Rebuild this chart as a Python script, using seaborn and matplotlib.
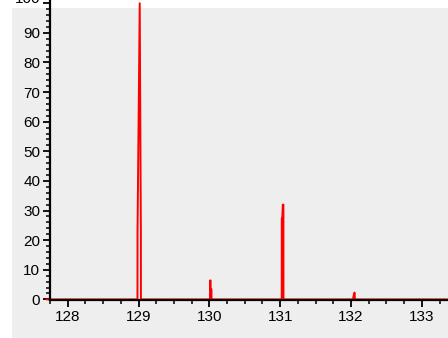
import numpy as np
import pandas as pd
import matplotlib
matplotlib.use("Agg")
import matplotlib.pyplot as plt
import seaborn as sns
from matplotlib.patches import Rectangle
from matplotlib.ticker import MultipleLocator
from matplotlib.transforms import ScaledTranslation

# profile spectrum (m/z vs relative intensity)
mz = [127.70,
      128.985, 128.986, 129.017, 129.033, 129.034,
      130.009, 130.010, 130.018, 130.019, 130.030, 130.031,
      131.022, 131.023, 131.030, 131.037, 131.046, 131.047,
      132.030, 132.035, 132.050, 132.056,
      133.50]
intensity = [0,
             0, 23, 100, 23, 0,
             0, 6.4, 6.4, 3.4, 3.4, 0,
             0, 27.3, 27.3, 32, 32, 0,
             0, 1.0, 2.3, 0,
             0]

x_ticks = [128, 129, 130, 131, 132, 133]
y_ticks = [0, 10, 20, 30, 40, 50, 60, 70, 80, 90, 100]

df = pd.DataFrame({"mz": mz, "intensity": intensity})

sns.set_style("ticks")
plt.rcParams['font.family'] = ['Liberation Sans', 'DejaVu Sans']

fig = plt.figure(figsize=(4.48, 3.38), dpi=100, facecolor="white")
# grey panel behind the plot
fig.patches.append(Rectangle((12 / 448, 0), 1, 330 / 338, transform=fig.transFigure,
                             facecolor="#eeeeee", edgecolor="none", zorder=-10))
ax = fig.add_axes([50 / 448, 38 / 338, 1 - 50 / 448, 1 - 38 / 338])
ax.set_zorder(1)
ax.patch.set_alpha(0)

sns.lineplot(data=df, x="mz", y="intensity", ax=ax, color="red", linewidth=1.4,
             estimator=None, sort=False, clip_on=False)

ax.set_xlim(127.75, 133.37)
ax.set_ylim(-0.2, 101.1)
ax.set_xticks(x_ticks)
ax.set_yticks(y_ticks)
ax.xaxis.set_minor_locator(MultipleLocator(0.25))
ax.yaxis.set_minor_locator(MultipleLocator(2))
ax.set_xlabel("")
ax.set_ylabel("")

for s in ["top", "right"]:
    ax.spines[s].set_visible(False)
for s in ["left", "bottom"]:
    ax.spines[s].set_linewidth(1.6)
    ax.spines[s].set_color("black")

ax.tick_params(which="major", length=5, width=1.3, labelsize=11, colors="black", pad=2)
ax.tick_params(which="minor", length=3, width=1.1, colors="black")

# top label sits mostly outside the picture in the original
top_lab = ax.get_yticklabels()[-1]
top_lab.set_transform(top_lab.get_transform() + ScaledTranslation(0, 6 / 100, fig.dpi_scale_trans))

fig.savefig("out.png", dpi=100, facecolor="white")
